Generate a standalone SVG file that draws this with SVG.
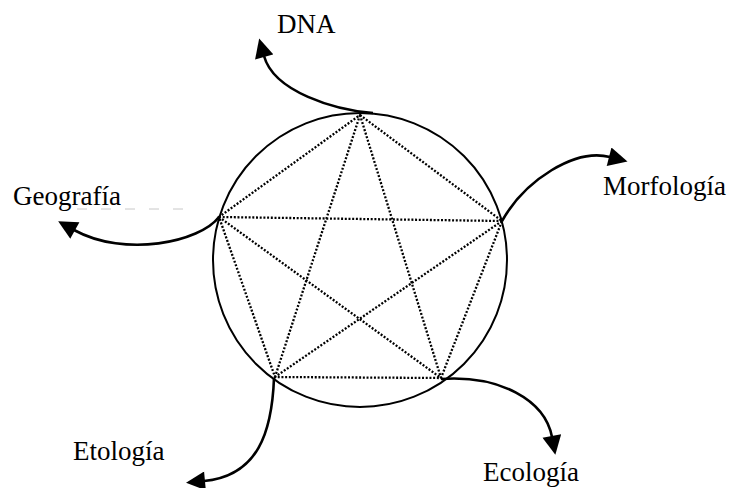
<svg xmlns="http://www.w3.org/2000/svg" width="730" height="488" viewBox="0 0 730 488">
<style>
.lbl{font-family:"Liberation Serif","Times New Roman",serif;font-size:27px;fill:#000}
.dot{stroke:#000;stroke-width:2.3;stroke-dasharray:2 1.7;fill:none}
.arc{stroke:#000;stroke-width:2.6;fill:none;marker-end:url(#ah)}
.ring{stroke:#000;stroke-width:2;fill:none}
</style>
<defs>
<marker id="ah" markerUnits="userSpaceOnUse" viewBox="0 0 20 20" refX="1" refY="10" markerWidth="21" markerHeight="19" orient="auto">
<path d="M0,0 L20,10 L0,20 z" fill="#000"/>
</marker>
</defs>
<rect width="730" height="488" fill="#fff"/>
<g id="ring">
<circle class="ring" cx="360" cy="260" r="147"/>
</g>
<g id="pentagram">
<path class="dot" d="M360,115 L502,221 L441,378 L275,377 L219,217 Z"/>
<path class="dot" d="M360,115 L441,378 M360,115 L275,377 M219,217 L502,221 M219,217 L441,378 M502,221 L275,377"/>
</g>
<line x1="77" y1="209" x2="193" y2="209" stroke="#c8c8c8" stroke-width="1" stroke-dasharray="10 14"/>
<g id="connectors">
<path class="arc" d="M373,113 C335,110 274,92 264,56"/>
<path class="arc" d="M502,221 C525,180 575,148 610,157"/>
<path class="arc" d="M219,217 C200,242 125,258 74,230"/>
<path class="arc" d="M274,378 C272,432 258,476 204,481"/>
<path class="arc" d="M441,379 C500,375 545,400 552,437"/>
</g>
<g id="dna"><text class="lbl" x="277" y="33">DNA</text></g>
<g id="morfologia"><text class="lbl" x="603" y="195">Morfología</text></g>
<g id="geografia"><text class="lbl" x="13" y="205">Geografía</text></g>
<g id="etologia"><text class="lbl" x="73" y="460">Etología</text></g>
<g id="ecologia"><text class="lbl" x="483" y="481">Ecología</text></g>
</svg>
